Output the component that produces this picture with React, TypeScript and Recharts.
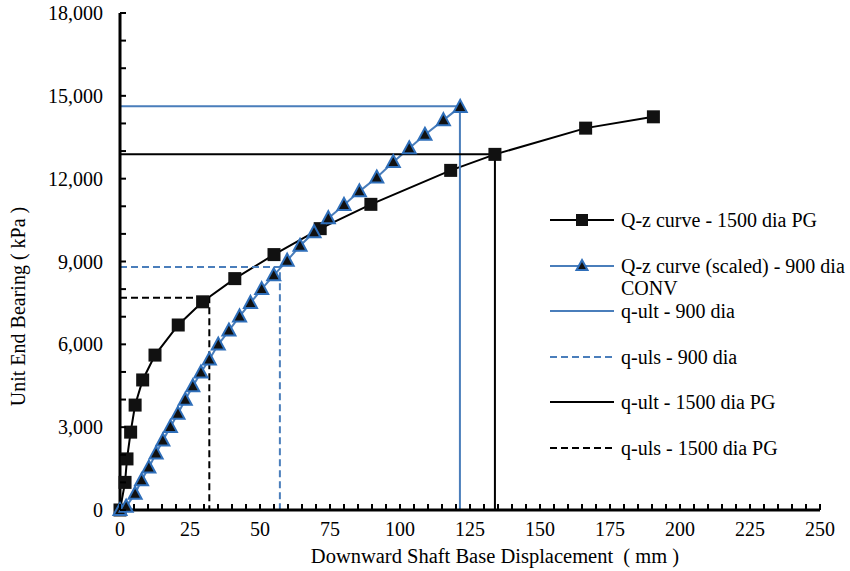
import React from 'react';
import { LineChart, Line, XAxis, YAxis, Legend } from 'recharts';

// ---- data ----
const pgName = 'Q-z curve - 1500 dia PG';
const pgDisp = [0, 1.8, 2.5, 3.8, 5.4, 8.1, 12.5, 20.8, 29.5, 41, 55, 71.5, 89.6, 118.1, 133.9, 166.3, 190.5];
const pgBearing = [0, 1000, 1850, 2820, 3800, 4710, 5610, 6700, 7540, 8380, 9250, 10190, 11070, 12300, 12880, 13830, 14240];

const convName = 'Q-z curve (scaled) - 900 dia CONV';
const convDisp = [0, 2.2, 5.4, 7.7, 10.3, 12.9, 15.3, 18, 20.7, 23.3, 26, 28.9, 31.9, 35.1, 38.9, 42.7, 46.6, 50.6, 54.9, 59.7, 64.3, 69.3, 74.4, 80, 85.5, 91.7, 97.6, 103.3, 108.9, 115.5, 121.5];
const convBearing = [0, 120, 590, 1075, 1540, 2050, 2520, 3010, 3490, 3990, 4480, 4980, 5450, 5990, 6500, 7010, 7500, 8000, 8500, 9030, 9570, 10060, 10570, 11050, 11540, 12040, 12600, 13100, 13590, 14120, 14600];

const limitNames = ['q-ult - 900 dia', 'q-uls - 900 dia', 'q-ult - 1500 dia PG', 'q-uls - 1500 dia PG'];
const limitDisp = [121.4, 57.1, 133.9, 31.9];
const limitBearing = [14620, 8800, 12880, 7690];

const xMajorTicks = [0, 25, 50, 75, 100, 125, 150, 175, 200, 225, 250];
const yMajorTicks = [0, 3000, 6000, 9000, 12000, 15000, 18000];
const xAllTicks = Array.from({ length: 51 }, (_, i) => i * 5);
const yAllTicks = Array.from({ length: 19 }, (_, i) => i * 1000);

const legendOrder = [pgName, convName, ...limitNames];

// ---- styles ----
const FONT = "'Liberation Serif', 'Times New Roman', Times, serif";
const BLUE = '#4A7EBB';
const TRI_BLUE = '#2F6FBA';
const BLACK = '#000';

const limitColors = [BLUE, BLUE, BLACK, BLACK];
const limitDash = [undefined, '7 4', undefined, '7 4'];

const pgData = pgDisp.map((x, i) => ({ x, y: pgBearing[i] }));
const convData = convDisp.map((x, i) => ({ x, y: convBearing[i] }));
const limitData = limitNames.map((_, i) => [
  { x: 0, y: limitBearing[i] },
  { x: limitDisp[i], y: limitBearing[i] },
  { x: limitDisp[i], y: 0 },
]);

const X_TICK_SIZE = 6;
const X_TICK_MARGIN = 6;
const Y_TICK_SIZE = 6;
const Y_TICK_MARGIN = 11;

const fmt = (v: number) => v.toLocaleString('en-US');

const XTick = (props: any) => {
  const { x, y, payload } = props;
  const v = payload.value;
  const axisY = y - X_TICK_SIZE - X_TICK_MARGIN;
  return (
    <g>
      <line x1={x} x2={x} y1={axisY} y2={axisY - 6} stroke={BLACK} strokeWidth={2} />
      {xMajorTicks.includes(v) && (
        <text x={x} y={y} dy="0.71em" textAnchor="middle" fontSize={20} style={{ fontFamily: FONT }} fill={BLACK}>
          {v}
        </text>
      )}
    </g>
  );
};

const YTick = (props: any) => {
  const { x, y, payload } = props;
  const v = payload.value;
  const axisX = x + Y_TICK_SIZE + Y_TICK_MARGIN;
  return (
    <g>
      <line x1={axisX} x2={axisX + 6} y1={y} y2={y} stroke={BLACK} strokeWidth={2} />
      {yMajorTicks.includes(v) && (
        <text x={x} y={y} dy="0.355em" textAnchor="end" fontSize={20} style={{ fontFamily: FONT }} fill={BLACK}>
          {fmt(v)}
        </text>
      )}
    </g>
  );
};

const SquareDot = (p: any) => {
  if (p.cx == null || p.cy == null) return null;
  return <rect key={`sq-${p.index}`} x={p.cx - 6.5} y={p.cy - 6.5} width={13} height={13} fill="#111" />;
};

const TriDot = (p: any) => {
  if (p.cx == null || p.cy == null) return null;
  const { cx, cy } = p;
  return (
    <polygon
      key={`tr-${p.index}`}
      points={`${cx},${cy - 7} ${cx + 6.5},${cy + 5} ${cx - 6.5},${cy + 5}`}
      fill="#111"
      stroke={TRI_BLUE}
      strokeWidth={2}
      strokeLinejoin="miter"
    />
  );
};

type LegendStyle = { color: string; dash?: string; marker?: 'square' | 'triangle' };
const legendStyles: Record<string, LegendStyle> = {
  [pgName]: { color: BLACK, marker: 'square' },
  [convName]: { color: BLUE, marker: 'triangle' },
};
limitNames.forEach((n, i) => {
  legendStyles[n] = { color: limitColors[i], dash: limitDash[i] };
});

const renderLegend = (props: any) => {
  const payload = [...(props.payload || [])].sort(
    (a: any, b: any) => legendOrder.indexOf(a.value) - legendOrder.indexOf(b.value)
  );
  return (
    <div style={{ fontFamily: FONT, fontSize: 20, color: BLACK }}>
      {payload.map((entry: any) => {
        const s = legendStyles[entry.value] || { color: entry.color };
        return (
          <div key={entry.value} style={{ height: 45.6, display: 'flex', alignItems: 'flex-start' }}>
            <svg width={64} height={22} style={{ flex: '0 0 64px' }}>
              <line x1={0} x2={64} y1={11} y2={11} stroke={s.color} strokeWidth={2} strokeDasharray={s.dash} />
              {s.marker === 'square' && <rect x={26} y={5} width={12} height={12} fill="#111" />}
              {s.marker === 'triangle' && (
                <polygon points="32,5 37.5,15 26.5,15" fill="#111" stroke={TRI_BLUE} strokeWidth={2} />
              )}
            </svg>
            <div style={{ marginLeft: 7, width: 228, lineHeight: '22px' }}>{entry.value}</div>
          </div>
        );
      })}
    </div>
  );
};

export default function App() {
  return (
    <div style={{ position: 'absolute', left: 0, top: 0, width: 850, height: 571, background: '#fff', fontFamily: FONT }}>
      <LineChart width={850} height={571} margin={{ top: 13, right: 30, left: 0, bottom: 0 }} style={{ fontFamily: FONT }}>
        <XAxis
          type="number"
          dataKey="x"
          domain={[0, 250]}
          ticks={xAllTicks}
          interval={0}
          tick={<XTick />}
          tickLine={false}
          tickSize={X_TICK_SIZE}
          tickMargin={X_TICK_MARGIN}
          axisLine={{ stroke: BLACK, strokeWidth: 3 }}
          height={61}
          label={{
            value: 'Downward Shaft Base Displacement\u00A0 (\u00A0mm )',
            position: 'insideBottom',
            offset: 8,
            dx: 25,
            style: { fontSize: 20.5, fontFamily: FONT, fill: BLACK },
          }}
        />
        <YAxis
          type="number"
          dataKey="y"
          domain={[0, 18000]}
          ticks={yAllTicks}
          interval={0}
          tick={<YTick />}
          tickLine={false}
          tickSize={Y_TICK_SIZE}
          tickMargin={Y_TICK_MARGIN}
          axisLine={{ stroke: BLACK, strokeWidth: 3 }}
          width={120}
          label={{
            value: 'Unit End Bearing ( kPa )',
            angle: -90,
            position: 'center',
            dx: -42,
            dy: 45,
            style: { fontSize: 20, fontFamily: FONT, fill: BLACK, textAnchor: 'middle' },
          }}
        />
        <Legend
          layout="vertical"
          align="center"
          verticalAlign="middle"
          content={renderLegend}
          wrapperStyle={{ left: 550, top: 209, width: 300 }}
        />
        <Line
          name={pgName}
          data={pgData}
          dataKey="y"
          type="linear"
          stroke={BLACK}
          strokeWidth={2}
          dot={SquareDot}
          activeDot={false}
          isAnimationActive={false}
        />
        <Line
          name={convName}
          data={convData}
          dataKey="y"
          type="linear"
          stroke={BLUE}
          strokeWidth={2}
          dot={TriDot}
          activeDot={false}
          isAnimationActive={false}
        />
        {limitNames.map((n, i) => (
          <Line
            key={n}
            name={n}
            data={limitData[i]}
            dataKey="y"
            type="linear"
            stroke={limitColors[i]}
            strokeWidth={2}
            strokeDasharray={limitDash[i]}
            dot={false}
            activeDot={false}
            isAnimationActive={false}
          />
        ))}
      </LineChart>
    </div>
  );
}
